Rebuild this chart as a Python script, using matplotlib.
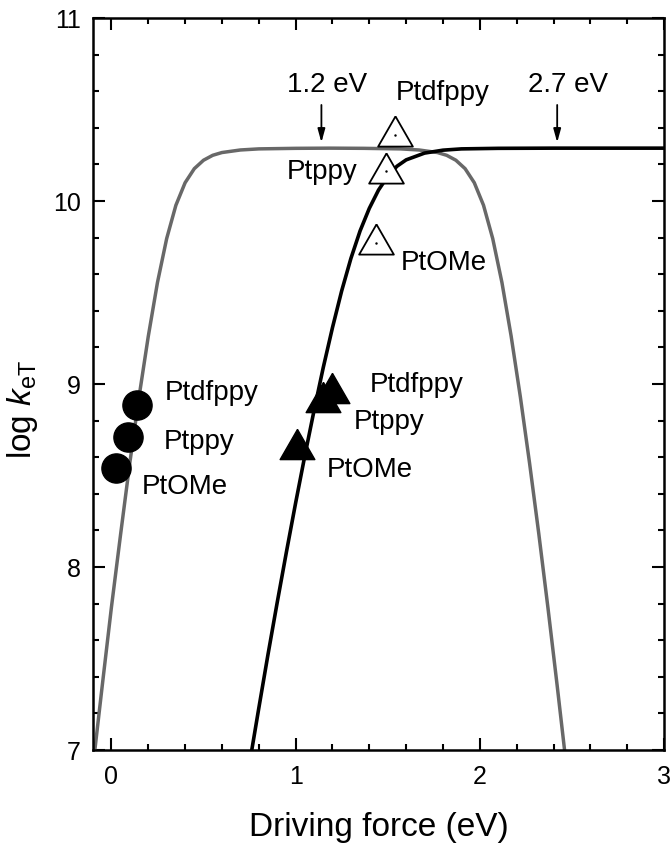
import matplotlib
matplotlib.use("Agg")
import matplotlib.pyplot as plt
from matplotlib.ticker import MultipleLocator

plt.rcParams['font.family'] = ['Liberation Sans', 'DejaVu Sans']
plt.rcParams['mathtext.fontset'] = 'custom'
plt.rcParams['mathtext.rm'] = 'Liberation Sans'
plt.rcParams['mathtext.it'] = 'Liberation Sans:italic'

# gray curve (lambda = 1.2 eV)
gray_x = [-0.09, -0.05, 0.0, 0.05, 0.1, 0.15, 0.2, 0.25, 0.3, 0.35, 0.4, 0.45, 0.5,
          0.55, 0.6, 0.7, 0.8, 1.0, 1.185, 1.37, 1.57, 1.67, 1.77, 1.82, 1.87, 1.92,
          1.97, 2.02, 2.07, 2.12, 2.17, 2.22, 2.27, 2.32, 2.37, 2.42, 2.46]
gray_y = [7.0, 7.35, 7.78, 8.18, 8.57, 8.93, 9.26, 9.555, 9.795, 9.977, 10.10, 10.177, 10.223,
          10.25, 10.265, 10.279, 10.285, 10.288, 10.289, 10.288, 10.285, 10.279, 10.265, 10.25, 10.223, 10.177,
          10.10, 9.977, 9.795, 9.555, 9.262, 8.93, 8.568, 8.183, 7.776, 7.351, 7.0]

# black curve (lambda = 2.7 eV)
black_x = [0.762, 0.8, 0.85, 0.9, 0.95, 1.0, 1.05, 1.1, 1.15, 1.2, 1.25, 1.3, 1.35,
           1.4, 1.45, 1.5, 1.55, 1.6, 1.7, 1.8, 1.9, 2.1, 2.4, 2.7, 3.0]
black_y = [7.0, 7.228, 7.522, 7.806, 8.082, 8.35, 8.608, 8.855, 9.09, 9.308, 9.509, 9.686, 9.837,
           9.96, 10.06, 10.135, 10.19, 10.225, 10.262, 10.278, 10.285, 10.288, 10.289, 10.289, 10.289]

names = ["Ptdfppy", "Ptppy", "PtOMe"]
circle_x = [0.141, 0.092, 0.027]
circle_y = [8.885, 8.710, 8.541]
filled_tri_x = [1.195, 1.146, 1.005]
filled_tri_y = [8.978, 8.929, 8.672]
open_tri_x = [1.538, 1.489, 1.438]
open_tri_y = [10.383, 10.183, 9.792]

fig = plt.figure(figsize=(6.71, 8.47), dpi=100)
ax = fig.add_axes([0.1386, 0.1145, 0.851, 0.8642])

ax.plot(gray_x, gray_y, color='#686868', lw=2.5, zorder=2)
ax.plot(black_x, black_y, color='black', lw=2.6, zorder=3)

tri = [(0, 1), (-1.15, -1), (1.15, -1), (0, 1)]
ax.plot(circle_x, circle_y, 'o', ms=21, color='black', zorder=5, ls='none')
ax.plot(filled_tri_x, filled_tri_y, marker=tri, ms=25, color='black', zorder=5, ls='none')
ax.plot(open_tri_x, open_tri_y, marker=tri, ms=25, mfc='white', mec='black', mew=1.3,
        zorder=5, ls='none')
ax.plot(open_tri_x, [v - 0.02 for v in open_tri_y], '.', ms=1.5, color='black', zorder=6, ls='none')

fs = 20
# labels next to circles
ax.text(0.292, 8.951, names[0], fontsize=fs, va='center')
ax.text(0.286, 8.683, names[1], fontsize=fs, va='center')
ax.text(0.162, 8.437, names[2], fontsize=fs, va='center')
# labels next to filled triangles
ax.text(1.405, 8.995, names[0], fontsize=fs, va='center')
ax.text(1.314, 8.792, names[1], fontsize=fs, va='center')
ax.text(1.168, 8.530, names[2], fontsize=fs, va='center')
# labels next to open triangles
ax.text(1.541, 10.590, names[0], fontsize=fs, va='center')
ax.text(1.335, 10.158, names[1], fontsize=fs, va='center', ha='right')
ax.text(1.573, 9.661, names[2], fontsize=fs, va='center')

ax.text(1.173, 10.634, "1.2 eV", fontsize=fs, va='center', ha='center')
ax.text(2.476, 10.634, "2.7 eV", fontsize=fs, va='center', ha='center')
for xa in [1.14, 2.42]:
    ax.annotate("", xy=(xa, 10.32), xytext=(xa, 10.525),
                arrowprops=dict(arrowstyle='-|>,head_length=0.8,head_width=0.22',
                                color='black', lw=1.3, shrinkA=0, shrinkB=0))

ax.set_xlim(-0.1, 3)
ax.set_ylim(7, 11)
ax.set_xticks([0, 1, 2, 3])
ax.set_yticks([7, 8, 9, 10, 11])
ax.xaxis.set_minor_locator(MultipleLocator(0.2))
ax.yaxis.set_minor_locator(MultipleLocator(0.2))
ax.tick_params(which='both', direction='in', top=True, right=True, width=1.5)
ax.tick_params(which='major', length=8.5, labelsize=18)
ax.tick_params(axis='x', which='major', pad=11)
ax.tick_params(axis='y', which='major', pad=9)
ax.tick_params(which='minor', length=4.5)
for s in ax.spines.values():
    s.set_linewidth(1.8)

ax.set_xlabel("Driving force (eV)", fontsize=24, labelpad=16)
ax.set_ylabel(r"log $\mathit{k}_{\rm eT}$", fontsize=24)
ax.yaxis.set_label_coords(-0.092, 0.466)

fig.savefig("out.png", dpi=100)
